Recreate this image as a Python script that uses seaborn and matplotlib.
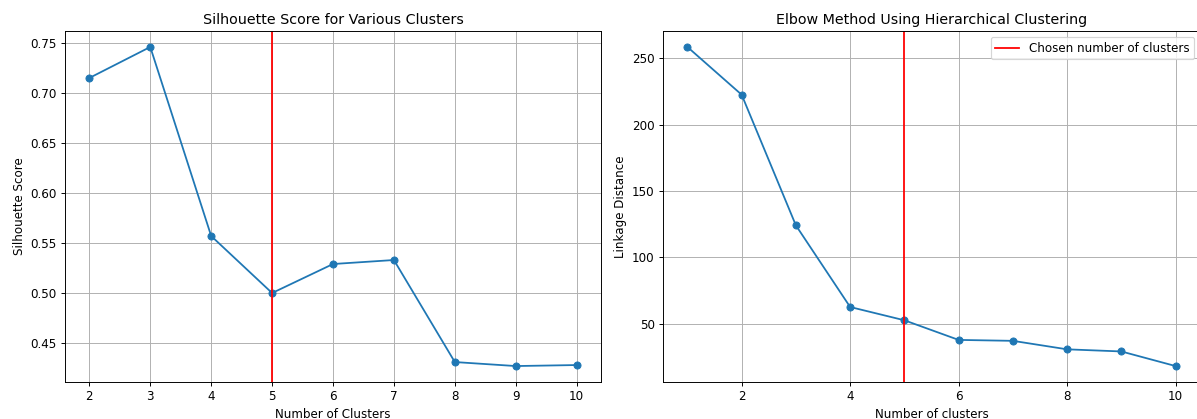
import matplotlib
matplotlib.use("Agg")
import matplotlib.pyplot as plt
import seaborn as sns
import pandas as pd

# silhouette scores per k
sil_k = [2, 3, 4, 5, 6, 7, 8, 9, 10]
sil_scores = [0.715, 0.746, 0.557, 0.500, 0.529, 0.533, 0.431, 0.427, 0.428]

# elbow (hierarchical linkage distances)
elbow_k = [1, 2, 3, 4, 5, 6, 7, 8, 9, 10]
linkage_dist = [258.5, 222.5, 124, 62.5, 52.5, 37.7, 37, 30.6, 29, 18]

chosen_k = 5

df_sil = pd.DataFrame({"k": sil_k, "score": sil_scores})
df_elbow = pd.DataFrame({"k": elbow_k, "dist": linkage_dist})

DPI = 85.5
fig = plt.figure(figsize=(1197 / DPI, 419 / DPI), dpi=DPI)
ax1 = fig.add_axes([0.0543, 0.0883, 0.4478, 0.8377])
ax2 = fig.add_axes([0.5539, 0.0883, 0.4486, 0.8377])

# 左: シルエットスコア
sns.lineplot(data=df_sil, x="k", y="score", marker="o", markersize=6,
             color="#1f77b4", markeredgecolor="#1f77b4", ax=ax1)
ax1.axvline(chosen_k, color="red")
ax1.set_xticks(sil_k)
ax1.set_title("Silhouette Score for Various Clusters", fontsize=12)
ax1.set_xlabel("Number of Clusters")
ax1.set_ylabel("Silhouette Score")
ax1.grid(True)

# 右: エルボー法
sns.lineplot(data=df_elbow, x="k", y="dist", marker="o", markersize=6,
             color="#1f77b4", markeredgecolor="#1f77b4", ax=ax2)
ax2.axvline(chosen_k, color="red", label="Chosen number of clusters")
ax2.set_title("Elbow Method Using Hierarchical Clustering", fontsize=12)
ax2.set_xlabel("Number of clusters")
ax2.set_ylabel("Linkage Distance")
ax2.grid(True)
ax2.legend(loc="upper right")

fig.savefig("out.png", dpi=DPI)
